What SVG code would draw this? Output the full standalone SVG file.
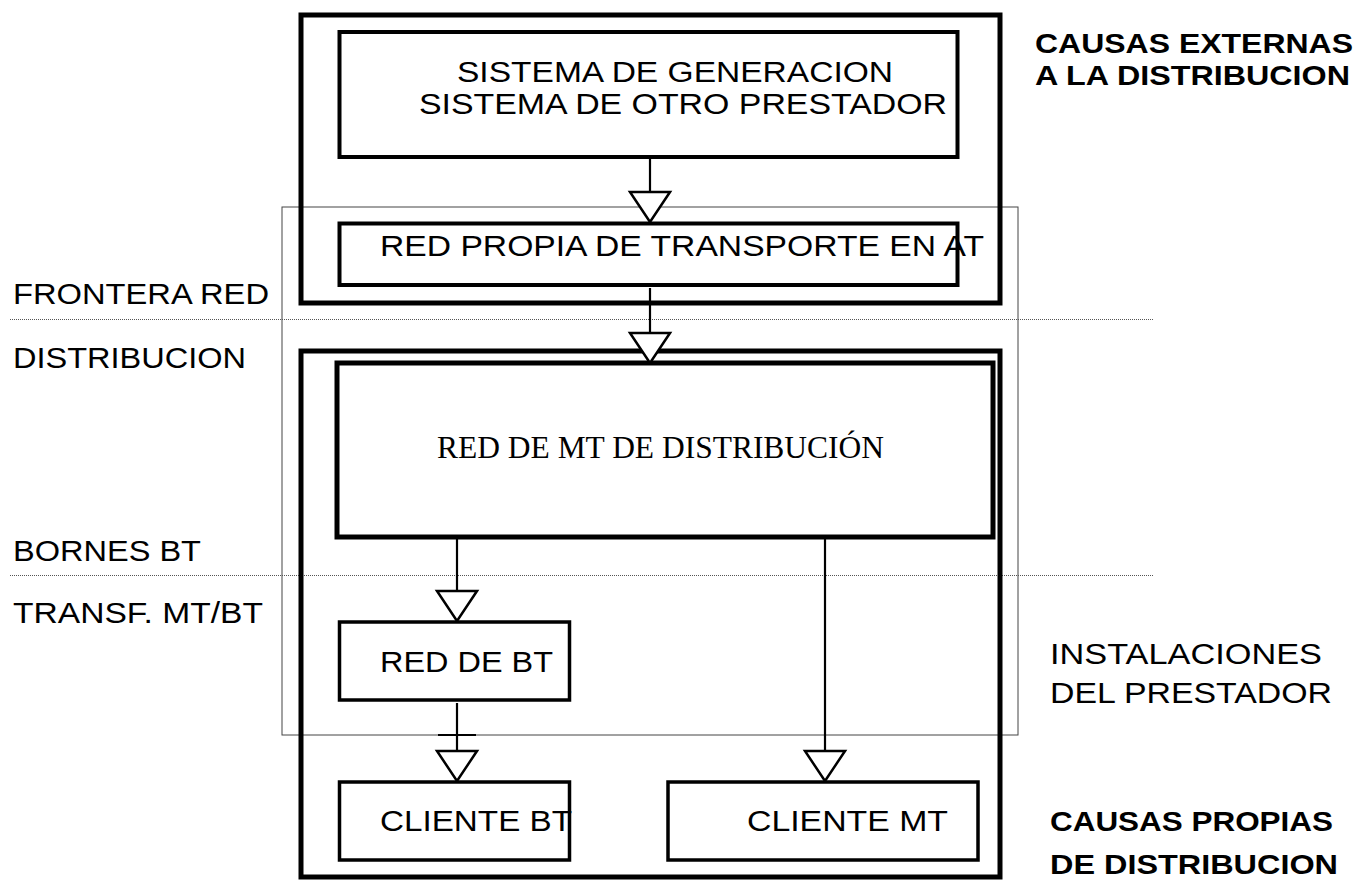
<svg xmlns="http://www.w3.org/2000/svg" width="1358" height="880" viewBox="0 0 1358 880">
<style>
  .outer { fill: none; stroke: #000; stroke-width: 5; }
  .box { fill: #fff; stroke: #000; stroke-width: 3.5; }
  .thin { fill: none; stroke: #444; stroke-width: 1; }
  .dot { stroke: #555; stroke-width: 1; stroke-dasharray: 1 1; }
  .conn { stroke: #000; stroke-width: 2.2; fill: none; }
  .t { font-family: "Liberation Sans", Arial, sans-serif; font-size: 29px; fill: #000; }
  .b { font-family: "Liberation Sans", Arial, sans-serif; font-size: 28px; font-weight: bold; fill: #000; }
  .s { font-family: "Liberation Serif", "Times New Roman", serif; font-size: 32px; fill: #000; }
</style>
<defs>
  <marker id="tri" markerUnits="userSpaceOnUse" markerWidth="44" markerHeight="46" refX="30" refY="22" orient="auto" overflow="visible">
    <path d="M0,2 L30,22 L0,42 Z" fill="#fff" stroke="#000" stroke-width="2.5" stroke-linejoin="miter"/>
  </marker>
</defs>

<g id="instalaciones-frame">
  <rect class="thin" x="282" y="207" width="736" height="528"/>
</g>

<g id="boundaries">
  <line class="dot" x1="10" y1="319.5" x2="1153" y2="319.5"/>
  <line class="dot" x1="10" y1="575.5" x2="1153" y2="575.5"/>
</g>

<g id="causas-externas-frame">
  <rect class="outer" x="301" y="15" width="699" height="288"/>
</g>
<g id="causas-propias-frame">
  <rect class="outer" x="301" y="351" width="699" height="526"/>
</g>

<g id="sistema">
  <rect class="box" x="339.5" y="32" width="618" height="125" style="stroke-width:4"/>
  <text class="t" x="457" y="82" textLength="436" lengthAdjust="spacingAndGlyphs">SISTEMA DE GENERACION</text>
  <text class="t" x="419" y="114" textLength="528" lengthAdjust="spacingAndGlyphs">SISTEMA DE OTRO PRESTADOR</text>
</g>

<g id="red-at">
  <rect class="box" x="339.5" y="223.5" width="618" height="61.5" style="stroke-width:4"/>
  <text class="t" x="380" y="256" textLength="604" lengthAdjust="spacingAndGlyphs">RED PROPIA DE TRANSPORTE EN AT</text>
</g>

<g id="red-mt">
  <rect class="box" x="337" y="363" width="656" height="174" style="stroke-width:5"/>
  <text class="s" x="437" y="458" textLength="447" lengthAdjust="spacingAndGlyphs">RED DE MT DE DISTRIBUCIÓN</text>
</g>

<g id="red-bt">
  <rect class="box" x="339.5" y="622" width="230" height="78"/>
  <text class="t" x="380" y="672" textLength="173" lengthAdjust="spacingAndGlyphs">RED DE BT</text>
</g>

<g id="cliente-bt">
  <rect class="box" x="339.5" y="782" width="230" height="78"/>
  <text class="t" x="380" y="831" textLength="192" lengthAdjust="spacingAndGlyphs">CLIENTE BT</text>
</g>

<g id="cliente-mt">
  <rect class="box" x="668" y="782" width="310" height="78"/>
  <text class="t" x="747" y="831" textLength="201" lengthAdjust="spacingAndGlyphs">CLIENTE MT</text>
</g>

<g id="connectors">
  <line class="conn" x1="650" y1="159" x2="650" y2="222" marker-end="url(#tri)"/>
  <line class="conn" x1="650" y1="288" x2="650" y2="363" marker-end="url(#tri)"/>
  <line class="conn" x1="457" y1="539" x2="457" y2="621" marker-end="url(#tri)"/>
  <line class="conn" x1="457" y1="703" x2="457" y2="781" marker-end="url(#tri)"/>
  <line class="conn" x1="438" y1="735" x2="476" y2="735"/>
  <line class="conn" x1="825" y1="539" x2="825" y2="781" marker-end="url(#tri)"/>
</g>

<g id="labels-left">
  <text class="t" x="13" y="304" textLength="256" lengthAdjust="spacingAndGlyphs">FRONTERA RED</text>
  <text class="t" x="13" y="368" textLength="233" lengthAdjust="spacingAndGlyphs">DISTRIBUCION</text>
  <text class="t" x="13" y="561" textLength="188" lengthAdjust="spacingAndGlyphs">BORNES BT</text>
  <text class="t" x="13" y="623" textLength="250" lengthAdjust="spacingAndGlyphs">TRANSF. MT/BT</text>
</g>

<g id="labels-right">
  <text class="b" x="1035" y="53" textLength="318" lengthAdjust="spacingAndGlyphs">CAUSAS EXTERNAS</text>
  <text class="b" x="1035" y="85" textLength="315" lengthAdjust="spacingAndGlyphs">A LA DISTRIBUCION</text>
  <text class="t" x="1050" y="664" textLength="272" lengthAdjust="spacingAndGlyphs">INSTALACIONES</text>
  <text class="t" x="1050" y="703" textLength="282" lengthAdjust="spacingAndGlyphs">DEL PRESTADOR</text>
  <text class="b" x="1050" y="831" textLength="283" lengthAdjust="spacingAndGlyphs">CAUSAS PROPIAS</text>
  <text class="b" x="1050" y="874" textLength="288" lengthAdjust="spacingAndGlyphs">DE DISTRIBUCION</text>
</g>
</svg>
